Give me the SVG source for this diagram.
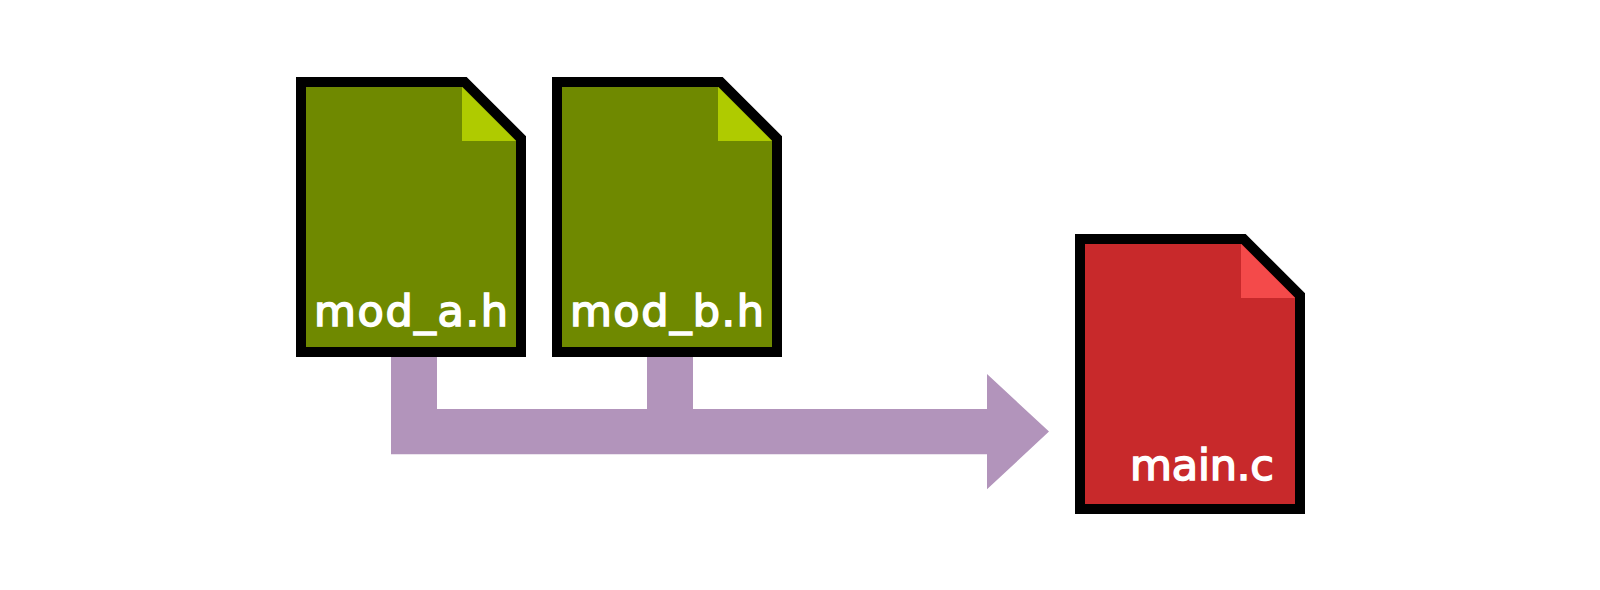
<svg xmlns="http://www.w3.org/2000/svg" width="1600" height="590" viewBox="0 0 1600 590">
<style>
.doc{stroke:#000;stroke-width:10;stroke-linejoin:miter}
.g{fill:#6f8900}.gf{fill:#afcb00}.r{fill:#c8292b}.rf{fill:#f44a4a}
text{font-family:"DejaVu Sans","Liberation Sans",sans-serif;font-size:43px;fill:#fff;stroke:#fff;stroke-width:1.6px}
</style>
<rect width="1600" height="590" fill="#fff"/>
<g id="connectors">
<path fill="#b294bb" d="M391 357H437V409H647V357H693V409H987V374L1049 431.600L987 489.300V454.300H391Z"/>
</g>
<g id="mod_a">
<path class="doc g" d="M301 82H464.600L521 138.400V352H301Z"/>
<path class="gf" d="M462 87L516 141H462Z"/>
<text x="314" y="326" textLength="194" lengthAdjust="spacing">mod<tspan dy="-1">_</tspan><tspan dy="1">a.h</tspan></text>
</g>
<g id="mod_b">
<path class="doc g" d="M557 82H720.600L777 138.400V352H557Z"/>
<path class="gf" d="M718 87L772 141H718Z"/>
<text x="570" y="326" textLength="194" lengthAdjust="spacing">mod<tspan dy="-1">_</tspan><tspan dy="1">b.h</tspan></text>
</g>
<g id="main_c">
<path class="doc r" d="M1080 239H1243.600L1300 295.400V509H1080Z"/>
<path class="rf" d="M1241 244L1295 298H1241Z"/>
<text x="1130" y="480" textLength="144" lengthAdjust="spacing">main.c</text>
</g>
</svg>
